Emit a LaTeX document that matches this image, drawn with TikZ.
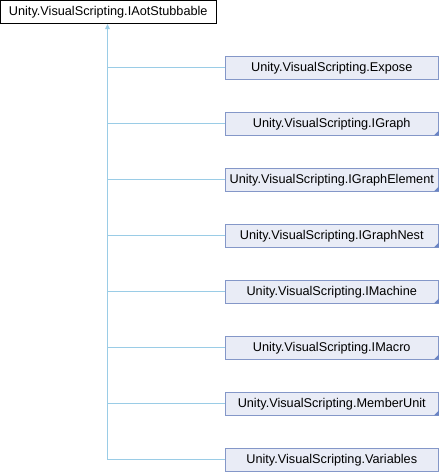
\documentclass[tikz,border=0pt]{standalone}
\usepackage{fontspec}
\setmainfont{Liberation Sans}
\usetikzlibrary{arrows.meta}
\definecolor{boxfill}{HTML}{E9ECF6}
\definecolor{boxdraw}{HTML}{8497C8}
\definecolor{edgec}{HTML}{9ACCE6}
\definecolor{foldc}{HTML}{6A84C4}
\tikzset{
  parentbox/.style={draw=black, fill=white, line width=0.8pt, minimum width=215.5pt, minimum height=22.5pt, inner sep=0pt, font=\fontsize{12.7}{14}\selectfont},
  childbox/.style={draw=boxdraw, fill=boxfill, line width=0.8pt, minimum width=213.5pt, minimum height=22.5pt, inner sep=0pt, font=\fontsize{12.7}{14}\selectfont},
  edge/.style={draw=edgec, line width=0.8pt},
}
\newcommand{\foldmark}[1]{\fill[foldc] ([xshift=-5pt]#1.south east) -- (#1.south east) -- ([yshift=5pt]#1.south east) -- cycle;}
\begin{document}
\begin{tikzpicture}[x=1pt,y=-1pt]
\useasboundingbox (0,0) rectangle (440,472);
\node[parentbox] (p) at (108.25,11.75) {Unity.VisualScripting.IAotStubbable};
\foreach \name/\lab [count=\i from 0] in {c0/Expose,c1/IGraph,c2/IGraphElement,c3/IGraphNest,c4/IMachine,c5/IMacro,c6/MemberUnit,c7/Variables}{
  \node[childbox] (\name) at (331.75,67.75+56*\i) {Unity.VisualScripting.\lab};
}
\foreach \name in {c1,c2,c3,c4,c5,c6}{\foldmark{\name}}
\coordinate (b) at (107.5,459.75);
\draw[edge] (p.south -| b) ++(0,5) -- (b) -- (c7.west);
\foreach \name in {c0,c1,c2,c3,c4,c5,c6}{
  \draw[edge] (\name.west -| b) -- (\name.west);
}
\fill[edgec] (p.south -| b) ++(0,0.6) -- ++(-2.5,5) -- ++(5,0) -- cycle;
\end{tikzpicture}
\end{document}
